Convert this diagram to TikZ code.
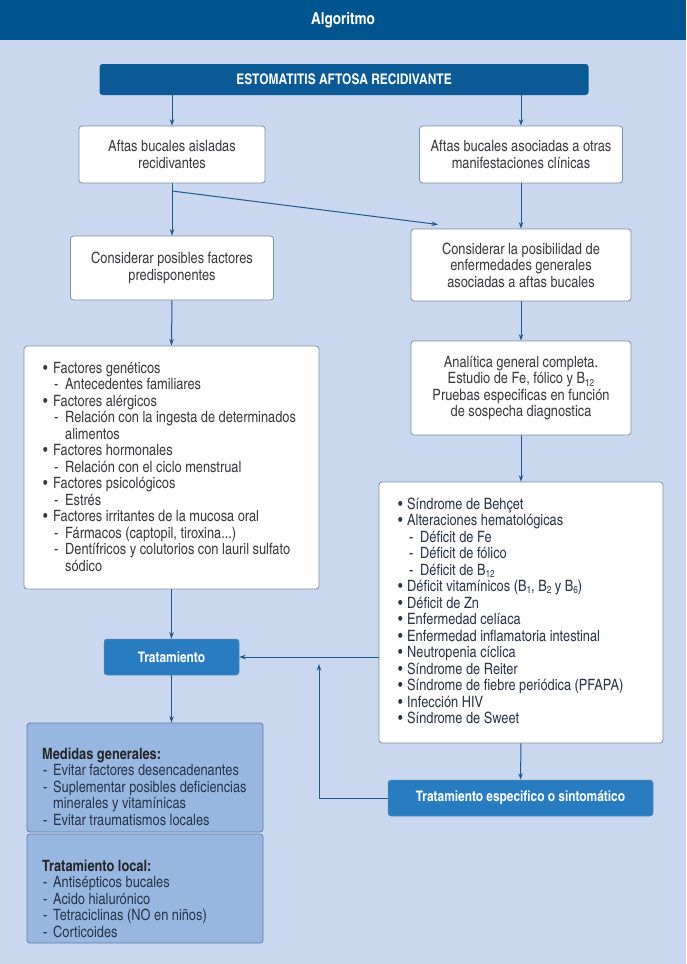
\documentclass[tikz,border=0pt]{standalone}
\usepackage{fontspec}
\setmainfont{texgyreheroscn}[Extension=.otf, UprightFont=*-regular, BoldFont=*-bold, ItalicFont=*-italic, BoldItalicFont=*-bolditalic]
\usetikzlibrary{arrows.meta}
\definecolor{bgblue}{HTML}{C9D7EF}
\definecolor{titleblue}{HTML}{00558F}
\definecolor{darkbox}{HTML}{0B5A96}
\definecolor{midbox}{HTML}{2A7CC1}
\definecolor{lightbox}{HTML}{97B7E1}
\definecolor{lightborder}{HTML}{5F7EA6}
\definecolor{wborder}{HTML}{7A8FA8}
\definecolor{arrblue}{HTML}{1E5B8C}
\definecolor{txtgrey}{HTML}{3A3A3E}
\definecolor{txtnavy}{HTML}{2A3448}
\newlength{\bw}\newlength{\dwa}\newlength{\dwb}
\newcommand{\bl}[1]{\makebox[\bw][l]{\textbullet}#1\par}
\newcommand{\dl}[1]{\hspace*{\dwa}\makebox[\dwb][l]{-}#1\par}
\newcommand{\cl}[1]{\hspace*{\dwa}\hspace*{\dwb}#1\par}
\newcommand{\sbs}[1]{\raisebox{-0.3ex}{\fontsize{10}{10}\selectfont #1}}
\tikzset{
  wbox/.style={draw=wborder, line width=0.8pt, fill=white, rounded corners=3pt, align=center,
    text=txtgrey, font=\fontsize{15.6}{16.5}\selectfont, inner sep=0pt},
  lbox/.style={draw=lightborder, line width=0.8pt, fill=lightbox, rounded corners=3pt, inner sep=0pt},
  dbox/.style={fill=darkbox, rounded corners=3pt, text=white, font=\bfseries\fontsize{14.6}{16}\selectfont, inner sep=0pt},
  mbox/.style={draw=arrblue!70, line width=0.5pt, fill=midbox, rounded corners=3pt, text=white, font=\bfseries\fontsize{14.5}{16}\selectfont, inner sep=0pt},
  listtxt/.style={inner sep=0pt, anchor=base west, font=\fontsize{15.6}{16.5}\selectfont},
  arr/.style={draw=arrblue, line width=1pt, -{Stealth[length=6.5pt,width=4.5pt]}},
  ln/.style={draw=arrblue, line width=1pt}
}
\begin{document}
\begin{tikzpicture}[x=1pt,y=-1pt]
\useasboundingbox (0,0) rectangle (686,964);
\fill[bgblue] (0,0) rectangle (686,964);
\fill[titleblue] (0,0) rectangle (686,40);
\node[text=white, font=\bfseries\fontsize{16.5}{18}\selectfont] (title) at (343,20) {Algoritmo};

\node[dbox, minimum width=489pt, minimum height=31pt] (est) at (344,79.5) {ESTOMATITIS AFTOSA RECIDIVANTE};

\node[wbox, minimum width=186pt, minimum height=57pt] (a1) at (172,154.5) {Aftas bucales aisladas\\recidivantes};
\node[wbox, minimum width=203pt, minimum height=57pt] (a2) at (521,154.5) {Aftas bucales asociadas a otras\\manifestaciones clínicas};
\node[wbox, minimum width=203pt, minimum height=64pt] (b1) at (172,268) {Considerar posibles factores\\predisponentes};
\node[wbox, minimum width=220pt, minimum height=72pt] (b2) at (521,265) {Considerar la posibilidad de\\enfermedades generales\\asociadas a aftas bucales};
\node[wbox, minimum width=220pt, minimum height=94pt] (c2) at (521,388) {Analítica general completa.\\Estudio de Fe, fólico y B\sbs{12}\\Pruebas especificas en función\\de sospecha diagnostica};

\node[wbox, minimum width=295pt, minimum height=243pt] (l1) at (171.5,467.5) {};
\node[listtxt, text=txtgrey] (l1t) at (43,373) {\setlength{\bw}{10pt}\setlength{\dwa}{11pt}\setlength{\dwb}{11pt}\parbox[t]{270pt}{%
\bl{Factores genéticos}
\dl{Antecedentes familiares}
\bl{Factores alérgicos}
\dl{Relación con la ingesta de determinados}
\cl{alimentos}
\bl{Factores hormonales}
\dl{Relación con el ciclo menstrual}
\bl{Factores psicológicos}
\dl{Estrés}
\bl{Factores irritantes de la mucosa oral}
\dl{Fármacos (captopil, tiroxina...)}
\dl{Dentífricos y colutorios con lauril sulfato}
\cl{sódico}}};

\node[wbox, minimum width=284pt, minimum height=261pt] (d2) at (521,612.5) {};
\node[listtxt, text=txtnavy] (d2t) at (398,509) {\setlength{\bw}{9pt}\setlength{\dwa}{11pt}\setlength{\dwb}{11pt}\parbox[t]{260pt}{%
\bl{Síndrome de Behçet}
\bl{Alteraciones hematológicas}
\dl{Déficit de Fe}
\dl{Déficit de fólico}
\dl{Déficit de B\sbs{12}}
\bl{Déficit vitamínicos (B\sbs{1}, B\sbs{2} y B\sbs{6})}
\bl{Déficit de Zn}
\bl{Enfermedad celíaca}
\bl{Enfermedad inflamatoria intestinal}
\bl{Neutropenia cíclica}
\bl{Síndrome de Reiter}
\bl{Síndrome de fiebre periódica (PFAPA)}
\bl{Infección HIV}
\bl{Síndrome de Sweet}}};

\node[mbox, minimum width=135pt, minimum height=36pt] (trat) at (171.5,657) {Tratamiento};
\node[mbox, minimum width=265pt, minimum height=36pt] (te) at (520.5,798) {Tratamiento especifico o sintomático};

\node[lbox, minimum width=236pt, minimum height=109pt] (med) at (145,777.5) {};
\node[listtxt, text=txtnavy] (medt) at (42,748) {\setlength{\dwa}{1pt}\setlength{\dwb}{10pt}\parbox[t]{220pt}{%
{\bfseries\color{black!85}Medidas generales:}\par
\dl{Evitar factores desencadenantes}
\dl{Suplementar posibles deficiencias}
\cl{minerales y vitamínicas}
\dl{Evitar traumatismos locales}}};

\node[lbox, minimum width=236pt, minimum height=109pt] (loc) at (145,888.5) {};
\node[listtxt, text=txtnavy] (loct) at (42,860) {\setlength{\dwa}{1pt}\setlength{\dwb}{10pt}\parbox[t]{220pt}{%
{\bfseries\color{black!85}Tratamiento local:}\par
\dl{Antisépticos bucales}
\dl{Acido hialurónico}
\dl{Tetraciclinas (NO en niños)}
\dl{Corticoides}}};

\coordinate (dj) at (172,191);
\coordinate (dt) at (438,224.5);
\coordinate (upc) at (319,798);
\coordinate (upt) at (319,664);

\draw[arr] (est.south -| a1.north) -- (a1.north);
\draw[arr] (est.south -| a2.north) -- (a2.north);
\draw[arr] (a1.south) -- (b1.north);
\draw[arr] (dj) -- (dt);
\draw[arr] (a2.south) -- (b2.north);
\draw[arr] (b1.south) -- (l1.north);
\draw[arr] (b2.south) -- (c2.north);
\draw[arr] (c2.south) -- (d2.north);
\draw[arr] (l1.south) -- (trat.north);
\draw[arr] (d2.west |- trat.east) -- (trat.east);
\draw[arr] (d2.south) -- (te.north);
\draw[arr] (te.west) -- (upc) -- (upt);
\draw[arr] (trat.south) -- (trat.south |- med.north);
\end{tikzpicture}
\end{document}
